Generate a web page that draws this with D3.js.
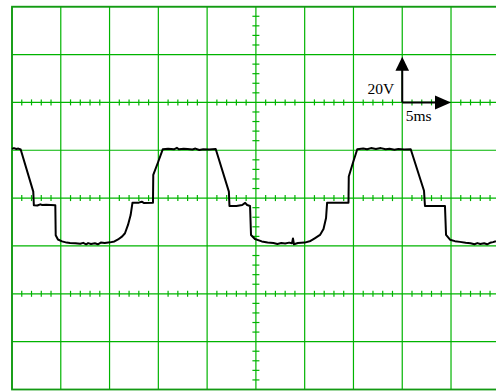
<!DOCTYPE html>
<html>
<head>
<meta charset="utf-8">
<script src="https://cdn.jsdelivr.net/npm/d3@7"></script>
<style>
  body { margin: 0; background: #fff; }
  svg { display: block; }
  .lbl { font-family: "Liberation Serif", "Times New Roman", serif; font-size: 15.5px; fill: #000; }
</style>
</head>
<body>
<svg id="scope" width="496" height="392"></svg>
<script>
// time (ms) and voltage (V) of the trace
const traceTime = [0, 0.2, 0.45, 0.65, 0.89,
  2.18, 2.24, 2.6, 2.9, 3.1, 3.5, 4.44,
  4.48, 4.71, 5.13, 5.6, 5.95, 6.5, 7.0, 7.3, 7.6, 7.8, 8.1, 8.5, 8.8, 9.1, 9.5, 10.05, 10.5, 10.87, 11.3, 11.58, 11.89, 12.16, 12.35,
  13.0, 13.3, 13.5, 14.45,
  14.48, 14.99, 15.45,
  16.0, 16.6, 16.9, 17.1, 17.6, 18.0, 18.5, 18.8, 19.2, 19.6, 20.2, 20.88,
  22.23, 22.29, 23.0, 23.6, 23.9, 24.1, 24.4,
  24.5, 24.9, 25.6, 26.2, 26.8, 27.2, 27.6, 28.0, 28.4, 28.7, 28.8, 28.9, 29.3, 30.0, 30.6,
  31.03, 31.57, 31.93, 32.19, 32.3, 34.49,
  34.52, 34.98, 35.39,
  36.0, 36.4, 36.8, 37.3, 37.8, 38.3, 38.7, 39.2, 39.6, 40.2, 40.87,
  42.23, 42.33, 44.38,
  44.49, 44.9, 45.4, 45.92, 46.5, 47.0, 47.4, 47.7, 48.0, 48.4, 48.7, 49.0, 49.3, 49.6];
const traceVolt = [20.6, 20.9, 20.5, 20.7, 20.3,
  2.7, -3.0, -3.1, -2.6, -2.9, -2.8, -3.0,
  -15.5, -17.3, -18.1, -18.6, -18.8, -18.9, -19.1, -18.7, -19.3, -18.8, -19.2, -18.9, -19.3, -18.6, -18.8, -18.5, -18.1, -17.3, -16.0, -14.7, -11.2, -7.1, -1.9,
  -1.9, -1.5, -2.0, -1.9,
  9.7, 15.2, 20.4,
  20.6, 20.4, 21.0, 20.4, 20.6, 20.5, 20.3, 20.7, 20.1, 20.4, 20.3, 20.5,
  2.7, -3.3, -3.3, -2.9, -2.0, -2.9, -3.3,
  -15.4, -17.1, -18.1, -18.6, -18.8, -19.2, -18.8, -19.0, -18.6, -18.9, -16.9, -19.3, -18.8, -18.6, -17.9,
  -16.8, -15.4, -12.9, -8.3, -1.9, -1.9,
  9.0, 15.2, 20.4,
  20.7, 20.4, 20.9, 20.5, 20.9, 20.4, 20.6, 20.2, 20.5, 20.3, 20.4,
  3.1, -3.3, -3.3,
  -15.4, -17.4, -18.0, -18.3, -18.7, -18.9, -19.3, -18.8, -19.2, -18.9, -19.3, -18.7, -18.4, -18.0];

const timeDivs = d3.range(0, 51, 5);      // 5 ms/div
const voltDivs = d3.range(-80, 81, 20);   // 20 V/div
const tickedVolts = [40, 0, -40];
const voltLabel = "20V";
const timeLabel = "5ms";

/** Oscilloscope screen view. */
class Scope {

  constructor(svgId) {
    this.svg = d3.select(svgId);
    this.x = d3.scaleLinear().domain([0, 50]).range([12, 499.8]);
    this.y = d3.scaleLinear().domain([-80, 80]).range([389.5, 6.7]);
    this.green = "#00b400";
  }

  drawGrid() {
    let x = this.x, y = this.y;
    let g = this.svg.append("g").attr("stroke", this.green).attr("stroke-width", 1.2);

    g.selectAll("line.v").data(timeDivs).enter().append("line")
      .attr("x1", d => x(d)).attr("x2", d => x(d))
      .attr("y1", y(80)).attr("y2", y(-80));

    g.selectAll("line.h").data(voltDivs).enter().append("line")
      .attr("x1", x(0)).attr("x2", x(50))
      .attr("y1", d => y(d)).attr("y2", d => y(d));

    // minor ticks, 5 per division
    let minorT = d3.range(0, 50.01, 1).filter(d => d % 5 != 0);
    tickedVolts.forEach(v => {
      g.selectAll(null).data(minorT).enter().append("line")
        .attr("x1", d => x(d)).attr("x2", d => x(d))
        .attr("y1", y(v) - 3).attr("y2", y(v) + 3);
    });
    let minorV = d3.range(-80, 80.01, 4).filter(d => d % 20 != 0);
    g.selectAll(null).data(minorV).enter().append("line")
      .attr("x1", x(25) - 3.5).attr("x2", x(25) + 3.5)
      .attr("y1", d => y(d)).attr("y2", d => y(d));

    // frame
    this.svg.append("rect")
      .attr("x", x(0)).attr("y", y(80))
      .attr("width", x(50) - x(0)).attr("height", y(-80) - y(80))
      .attr("fill", "none").attr("stroke", "#139a13").attr("stroke-width", 1.8);
  }

  drawTrace() {
    let pts = traceTime.map((t, i) => [t, traceVolt[i]]);
    let line = d3.line().x(d => this.x(d[0])).y(d => this.y(d[1]));
    this.svg.append("path")
      .datum(pts)
      .attr("d", line)
      .attr("fill", "none")
      .attr("stroke", "#000")
      .attr("stroke-width", 2)
      .attr("stroke-linejoin", "round");
  }

  drawScaleArrows() {
    let x = this.x, y = this.y;
    let ox = x(40), oy = y(40);
    let g = this.svg.append("g");
    g.append("line").attr("x1", ox).attr("y1", oy).attr("x2", ox).attr("y2", y(55))
      .attr("stroke", "#000").attr("stroke-width", 2);
    g.append("line").attr("x1", ox).attr("y1", oy).attr("x2", x(43.6)).attr("y2", oy)
      .attr("stroke", "#000").attr("stroke-width", 2);
    let ty = y(59.1), tx = x(45);
    g.append("path")
      .attr("d", `M${ox},${ty}L${ox - 6.8},${ty + 14}L${ox + 6.8},${ty + 14}Z`);
    g.append("path")
      .attr("d", `M${tx},${oy}L${tx - 16},${oy - 7}L${tx - 16},${oy + 7}Z`);

    g.append("text").attr("class", "lbl")
      .attr("x", ox - 8).attr("y", oy - 8.5)
      .attr("text-anchor", "end").text(voltLabel);
    g.append("text").attr("class", "lbl")
      .attr("x", ox + 3.5).attr("y", oy + 18.5)
      .text(timeLabel);
  }
}

let scope = new Scope("#scope");
scope.drawGrid();
scope.drawTrace();
scope.drawScaleArrows();
</script>
</body>
</html>
